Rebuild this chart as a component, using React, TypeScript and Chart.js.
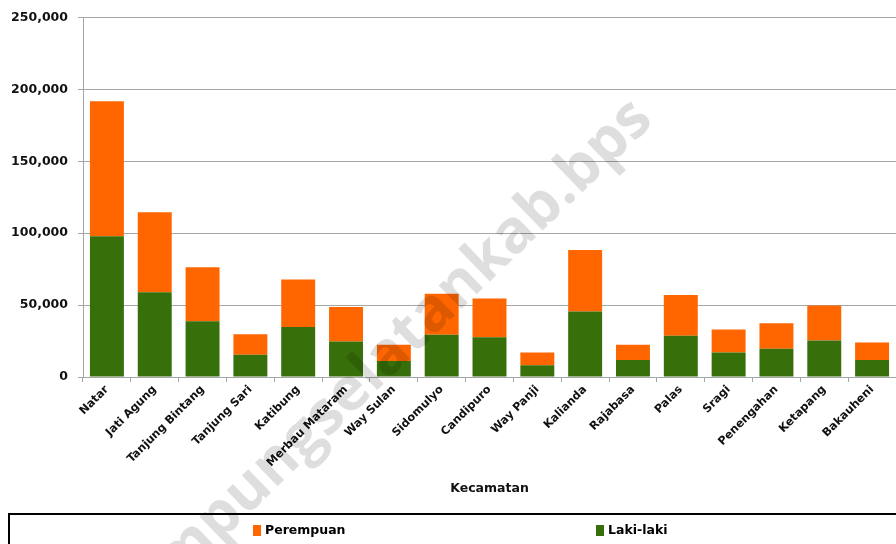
import React, { useEffect, useRef } from "react";
import { Chart, registerables } from "chart.js";

Chart.register(...registerables);

const categories = [
  "Natar",
  "Jati Agung",
  "Tanjung Bintang",
  "Tanjung Sari",
  "Katibung",
  "Merbau Mataram",
  "Way Sulan",
  "Sidomulyo",
  "Candipuro",
  "Way Panji",
  "Kalianda",
  "Rajabasa",
  "Palas",
  "Sragi",
  "Penengahan",
  "Ketapang",
  "Bakauheni",
];

const lakiLaki = [97900, 59000, 38700, 15400, 34800, 24700, 11100, 29300, 27700, 8100, 45600, 11800, 28600, 17100, 19600, 25400, 11800];
const perempuan = [93800, 55500, 37600, 14300, 32950, 24000, 11300, 28600, 26900, 9000, 42700, 10600, 28400, 15900, 17700, 24400, 12200];

const yMin = 0;
const yMax = 250000;
const yStep = 50000;

const xTitle = "Kecamatan";
const watermarkText = "lampungselatankab.bps";

const ORANGE = "#FF6600";
const GREEN = "#376F0A";
const FONT = "'DejaVu Sans', sans-serif";

export default function App() {
  const ref = useRef<HTMLCanvasElement>(null);

  useEffect(() => {
    if (!ref.current) return;

    const legendBox = {
      id: "legendBox",
      afterDraw(chart: any) {
        const ctx = chart.ctx;
        ctx.save();
        ctx.strokeStyle = "#000";
        ctx.lineWidth = 2;
        ctx.strokeRect(9, 514, 900, 60);
        const items = [...chart.data.datasets].reverse();
        const xs = [253, 596];
        ctx.font = `bold 12.5px ${FONT}`;
        ctx.textBaseline = "middle";
        ctx.textAlign = "left";
        items.forEach((ds: any, i: number) => {
          const x = xs[i];
          ctx.fillStyle = ds.backgroundColor;
          ctx.fillRect(x, 525, 8, 11);
          ctx.fillStyle = "#000";
          ctx.fillText(ds.label, x + 12, 531);
        });
        ctx.restore();
      },
    };

    const watermark = {
      id: "watermark",
      afterDraw(chart: any) {
        const ctx = chart.ctx;
        ctx.save();
        ctx.translate(655, 122);
        ctx.rotate((-44 * Math.PI) / 180);
        ctx.font = "bold 60px 'Open Sans', sans-serif";
        ctx.textAlign = "right";
        ctx.textBaseline = "alphabetic";
        ctx.fillStyle = "rgba(0,0,0,0.13)";
        ctx.fillText(watermarkText, 0, 0);
        ctx.restore();
      },
    };

    const chart = new Chart(ref.current, {
      type: "bar",
      data: {
        labels: categories,
        datasets: [
          {
            label: "Laki-laki",
            data: lakiLaki,
            backgroundColor: GREEN,
            categoryPercentage: 1,
            barPercentage: 0.71,
          },
          {
            label: "Perempuan",
            data: perempuan,
            backgroundColor: ORANGE,
            categoryPercentage: 1,
            barPercentage: 0.71,
          },
        ],
      },
      options: {
        animation: false,
        responsive: false,
        devicePixelRatio: 1,
        layout: { padding: { top: 10, left: 0, right: 0, bottom: 44 } },
        plugins: {
          legend: { display: false },
          tooltip: { enabled: false },
        },
        scales: {
          x: {
            stacked: true,
            grid: {
              display: true,
              drawOnChartArea: false,
              drawTicks: true,
              tickLength: 5,
              color: "#a6a6a6",
            },
            border: { display: true, color: "#a6a6a6", width: 1 },
            ticks: {
              autoSkip: false,
              maxRotation: 45,
              minRotation: 45,
              padding: 1,
              color: "#111",
              font: { family: FONT, size: 11.3, weight: "bold" },
            },
            title: {
              display: true,
              text: xTitle,
              color: "#111",
              font: { family: FONT, size: 12.5, weight: "bold" },
              padding: { top: 4, bottom: 4 },
            },
            afterFit(scale: any) {
              scale.height = 123;
            },
          },
          y: {
            stacked: true,
            min: yMin,
            max: yMax,
            grid: {
              color: "#a6a6a6",
              tickLength: 5,
              drawTicks: true,
            },
            border: { display: true, color: "#a6a6a6", width: 1 },
            ticks: {
              stepSize: yStep,
              padding: 10,
              color: "#111",
              font: { family: FONT, size: 12.5, weight: "bold" },
              callback: (v: any) => Number(v).toLocaleString("en-US"),
            },
            afterFit(scale: any) {
              scale.width = 83;
            },
          },
        },
      },
      plugins: [legendBox, watermark],
    });

    return () => chart.destroy();
  }, []);

  return (
    <div
      style={{
        position: "fixed",
        left: 0,
        top: 0,
        width: 896,
        height: 544,
        background: "#fff",
        overflow: "hidden",
      }}
    >
      <canvas ref={ref} width={896} height={544} style={{ display: "block", width: 896, height: 544 }} />
    </div>
  );
}
